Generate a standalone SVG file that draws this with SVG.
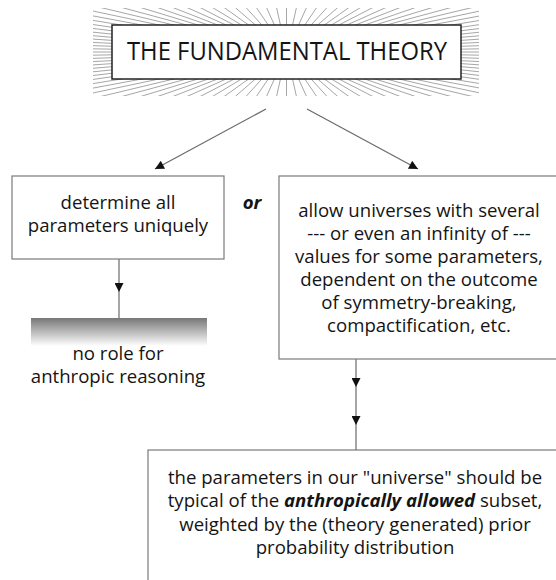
<svg xmlns="http://www.w3.org/2000/svg" xmlns:xlink="http://www.w3.org/1999/xlink" width="556" height="580" viewBox="0 0 556 580">
<style>
  .t { font-family: "Open Sans", "Liberation Sans", sans-serif; font-size: 18.6px; fill: #141414; text-anchor: middle; }
  .box { fill: #fff; stroke: #7a7a7a; stroke-width: 1.2; }
  .conn { fill: none; stroke: #6a6a6a; stroke-width: 1.2; }
  .ray { stroke: #8f8f8f; stroke-width: 0.8; }
</style>
<defs>
  <marker id="ah" viewBox="0 0 10 10" refX="10" refY="5" markerWidth="12" markerHeight="9" markerUnits="userSpaceOnUse" orient="auto">
    <path d="M0,0 L10,5 L0,10 z" fill="#111"/>
  </marker>
  <linearGradient id="fade" x1="0" y1="0" x2="0" y2="1">
    <stop offset="0" stop-color="#777777"/>
    <stop offset="1" stop-color="#ffffff"/>
  </linearGradient>
  <clipPath id="sunclip"><rect x="93" y="8" width="386" height="88"/></clipPath>
  <line id="ray" x1="0" y1="0" x2="300" y2="0" class="ray" vector-effect="non-scaling-stroke"/>
  <g id="rays13">
    <use xlink:href="#ray"/>
    <use xlink:href="#ray" transform="rotate(3.4615)"/>
    <use xlink:href="#ray" transform="rotate(6.9231)"/>
    <use xlink:href="#ray" transform="rotate(10.3846)"/>
    <use xlink:href="#ray" transform="rotate(13.8462)"/>
    <use xlink:href="#ray" transform="rotate(17.3077)"/>
    <use xlink:href="#ray" transform="rotate(20.7692)"/>
    <use xlink:href="#ray" transform="rotate(24.2308)"/>
    <use xlink:href="#ray" transform="rotate(27.6923)"/>
    <use xlink:href="#ray" transform="rotate(31.1538)"/>
    <use xlink:href="#ray" transform="rotate(34.6154)"/>
    <use xlink:href="#ray" transform="rotate(38.0769)"/>
    <use xlink:href="#ray" transform="rotate(41.5385)"/>
  </g>
</defs>

<g id="title-node">
  <g clip-path="url(#sunclip)">
    <g transform="translate(286.5 52) scale(3.7 1)">
      <use xlink:href="#rays13"/>
      <use xlink:href="#rays13" transform="rotate(45)"/>
      <use xlink:href="#rays13" transform="rotate(90)"/>
      <use xlink:href="#rays13" transform="rotate(135)"/>
      <use xlink:href="#rays13" transform="rotate(180)"/>
      <use xlink:href="#rays13" transform="rotate(225)"/>
      <use xlink:href="#rays13" transform="rotate(270)"/>
      <use xlink:href="#rays13" transform="rotate(315)"/>
    </g>
  </g>
  <rect x="112" y="25" width="349" height="54" fill="#fff" stroke="#222" stroke-width="1.5"/>
  <text class="t" x="287" y="60" style="font-size:25px" textLength="320" lengthAdjust="spacingAndGlyphs">THE FUNDAMENTAL THEORY</text>
</g>

<g id="connectors">
  <line class="conn" x1="266" y1="109" x2="155" y2="169" marker-end="url(#ah)"/>
  <line class="conn" x1="307" y1="109" x2="418" y2="169" marker-end="url(#ah)"/>
  <polyline class="conn" points="119,259 119,292 119,318" marker-mid="url(#ah)"/>
  <polyline class="conn" points="356,359 356,387 356,425 356,450" marker-mid="url(#ah)"/>
</g>

<g id="unique-node">
  <rect class="box" x="12" y="176" width="212" height="83"/>
  <text class="t" x="118" y="209">determine all</text>
  <text class="t" x="118" y="232">parameters uniquely</text>
</g>

<g id="or-label">
  <text class="t" x="252" y="209" style="font-weight:bold;font-style:italic">or</text>
</g>

<g id="no-role-node">
  <rect x="31" y="318" width="176" height="28" fill="url(#fade)"/>
  <text class="t" x="118" y="360">no role for</text>
  <text class="t" x="118" y="383">anthropic reasoning</text>
</g>

<g id="several-node">
  <rect class="box" x="279" y="176" width="290" height="183"/>
  <text class="t" x="419" y="217">allow universes with several</text>
  <text class="t" x="419" y="240">--- or even an infinity of ---</text>
  <text class="t" x="419" y="263">values for some parameters,</text>
  <text class="t" x="419" y="286">dependent on the outcome</text>
  <text class="t" x="419" y="309">of symmetry-breaking,</text>
  <text class="t" x="419" y="332">compactification, etc.</text>
</g>

<g id="typical-node">
  <rect class="box" x="148" y="450" width="420" height="140"/>
  <text class="t" x="355" y="484">the parameters in our "universe" should be</text>
  <text class="t" x="355" y="507">typical of the <tspan style="font-weight:bold;font-style:italic">anthropically allowed</tspan> subset,</text>
  <text class="t" x="355" y="531">weighted by the (theory generated) prior</text>
  <text class="t" x="355" y="554">probability distribution</text>
</g>
</svg>
